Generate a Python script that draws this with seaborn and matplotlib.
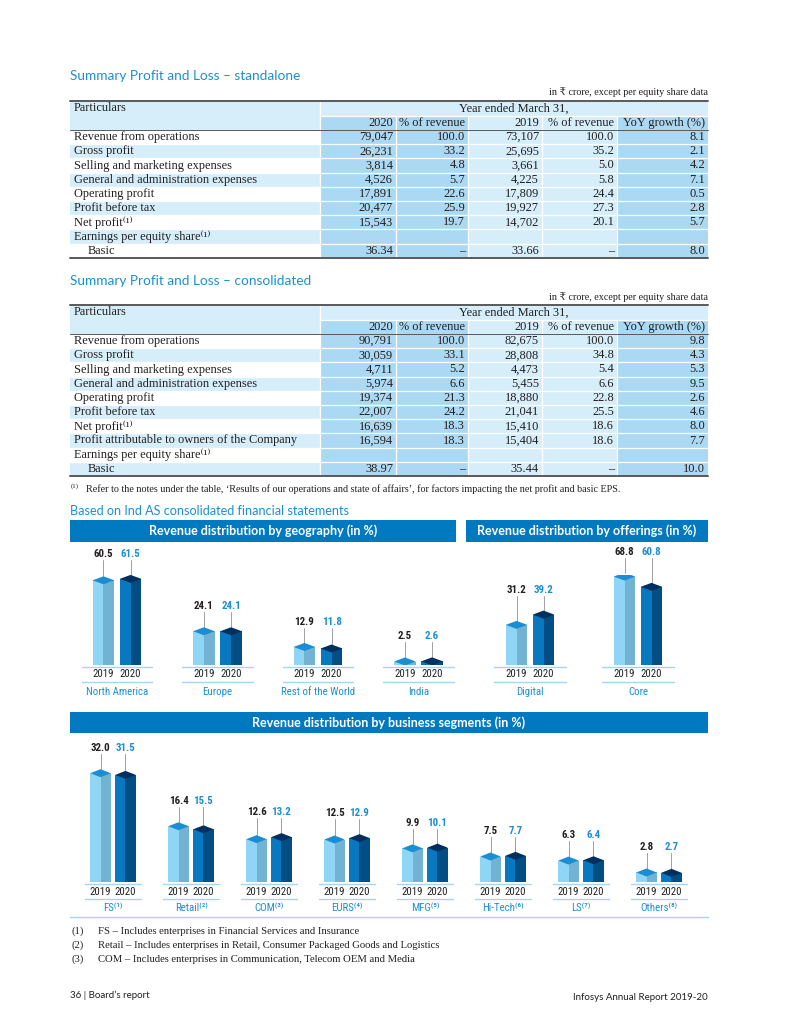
import numpy as np
import pandas as pd
import seaborn as sns
import matplotlib
matplotlib.use("Agg")
import matplotlib.pyplot as plt
from matplotlib.patches import Rectangle, Polygon
from matplotlib import font_manager
import matplotlib.transforms as mtrans

# ---------------- data ----------------
sa_rows = ["Revenue from operations", "Gross profit", "Selling and marketing expenses",
           "General and administration expenses", "Operating profit", "Profit before tax",
           "Net profit⁽¹⁾", "Earnings per equity share⁽¹⁾", "Basic"]
sa_2020 = ["79,047", "26,231", "3,814", "4,526", "17,891", "20,477", "15,543", "", "36.34"]
sa_2020_pct = ["100.0", "33.2", "4.8", "5.7", "22.6", "25.9", "19.7", "", "–"]
sa_2019 = ["73,107", "25,695", "3,661", "4,225", "17,809", "19,927", "14,702", "", "33.66"]
sa_2019_pct = ["100.0", "35.2", "5.0", "5.8", "24.4", "27.3", "20.1", "", "–"]
sa_yoy = ["8.1", "2.1", "4.2", "7.1", "0.5", "2.8", "5.7", "", "8.0"]

co_rows = ["Revenue from operations", "Gross profit", "Selling and marketing expenses",
           "General and administration expenses", "Operating profit", "Profit before tax",
           "Net profit⁽¹⁾", "Profit attributable to owners of the Company",
           "Earnings per equity share⁽¹⁾", "Basic"]
co_2020 = ["90,791", "30,059", "4,711", "5,974", "19,374", "22,007", "16,639", "16,594", "", "38.97"]
co_2020_pct = ["100.0", "33.1", "5.2", "6.6", "21.3", "24.2", "18.3", "18.3", "", "–"]
co_2019 = ["82,675", "28,808", "4,473", "5,455", "18,880", "21,041", "15,410", "15,404", "", "35.44"]
co_2019_pct = ["100.0", "34.8", "5.4", "6.6", "22.8", "25.5", "18.6", "18.6", "", "–"]
co_yoy = ["9.8", "4.3", "5.3", "9.5", "2.6", "4.6", "8.0", "7.7", "", "10.0"]

table_headers = ["2020", "% of revenue", "2019", "% of revenue", "YoY growth (%)"]

years = ["2019", "2020"]
geo_regions = ["North America", "Europe", "Rest of the World", "India"]
geo_2019 = [60.5, 24.1, 12.9, 2.5]
geo_2020 = [61.5, 24.1, 11.8, 2.6]
off_types = ["Digital", "Core"]
off_2019 = [31.2, 68.8]
off_2020 = [39.2, 60.8]
seg_names = ["FS⁽¹⁾", "Retail⁽²⁾", "COM⁽³⁾", "EURS⁽⁴⁾", "MFG⁽⁵⁾", "Hi-Tech⁽⁶⁾", "LS⁽⁷⁾", "Others⁽⁸⁾"]
seg_2019 = [32.0, 16.4, 12.6, 12.5, 9.9, 7.5, 6.3, 2.8]
seg_2020 = [31.5, 15.5, 13.2, 12.9, 10.1, 7.7, 6.4, 2.7]

notes = [("(1)", "FS – Includes enterprises in Financial Services and Insurance"),
         ("(2)", "Retail – Includes enterprises in Retail, Consumer Packaged Goods and Logistics"),
         ("(3)", "COM – Includes enterprises in Communication, Telecom OEM and Media")]

# ---------------- style ----------------
sns.set_style("white")
avail = {f.name for f in font_manager.fontManager.ttflist}


def pick(cands, default):
    for c in cands:
        if c in avail:
            return c
    return default


SERIF = pick(["Liberation Serif", "DejaVu Serif"], "serif")
SANS = pick(["Lato", "Open Sans", "Noto Sans"], "DejaVu Sans")
COND = pick(["Liberation Sans Narrow", "Roboto Condensed", "Open Sans Condensed", "Roboto"], SANS)
plt.rcParams["font.family"] = [SANS, "DejaVu Sans"]
SERIF_F = [SERIF, "DejaVu Serif", "DejaVu Sans"]
SANS_F = [SANS, "DejaVu Sans"]
COND_F = [COND, "DejaVu Sans"]

BLUE_TXT = "#1b8fd2"
BANNER = "#0079c1"
MED = "#abd9f3"
LIGHT = "#d5eefa"
RULE = "#58595b"
DARK = "#231f20"
FRONT = ["#8fd5f6", "#0878c0"]
SIDE = ["#72b3d3", "#014e84"]
TOP = ["#1b8ed3", "#012f5e"]
LINEC = "#a3d6f1"

W, H = 800, 1035
fig = plt.figure(figsize=(W / 100, H / 100), dpi=100)
page = fig.add_axes([0, 0, 1, 1])
page.set_xlim(0, W)
page.set_ylim(H, 0)
page.axis("off")


def rect(x, y, w, h, c, z=1):
    page.add_patch(Rectangle((x, y), w, h, facecolor=c, edgecolor="none", zorder=z))


def draw_table(title, title_y, unit_y, top, rows, cols):
    page.text(70, title_y, title, family=SANS_F, fontsize=9.8, color=BLUE_TXT, va="center")
    page.text(708, unit_y, "in ₹ crore, except per equity share data", family=SERIF_F,
              fontsize=7.3, color=DARK, va="center", ha="right")
    xe = [70, 320, 396, 468, 542, 617, 708]
    hh, rh = 14.5, 14.2
    y0 = top + 2 * hh
    bottom = y0 + rh * len(rows)
    rect(70, top, 250, 2 * hh, LIGHT)
    rect(320, top, 388, hh, LIGHT)
    rect(320, top + hh, 148, hh, MED)
    rect(468, top + hh, 149, hh, LIGHT)
    rect(617, top + hh, 91, hh, MED)
    for i in range(len(rows)):
        y = y0 + i * rh
        rect(70, y, 250, rh, LIGHT if i % 2 else "white")
        rect(320, y, 148, rh, MED)
        rect(468, y, 149, rh, LIGHT)
        rect(617, y, 91, rh, MED)
    for x in xe[1:-1]:
        y_start = top + hh if x != 320 else top
        page.plot([x, x], [y_start, bottom], color="white", lw=0.9, zorder=2)
    page.plot([320, 708], [top + hh, top + hh], color="white", lw=0.9, zorder=2)
    for i in range(1, len(rows)):
        y = y0 + i * rh
        page.plot([70, 708], [y, y], color="white", lw=0.9, zorder=2)
    page.plot([70, 708], [top, top], color=RULE, lw=1.4, zorder=3)
    page.plot([70, 708], [y0, y0], color=RULE, lw=0.7, zorder=3)
    page.plot([70, 708], [bottom, bottom], color=RULE, lw=1.4, zorder=3)
    fs = 8.9
    page.text(74, top + hh / 2, "Particulars", family=SERIF_F, fontsize=fs, color=DARK, va="center", zorder=4)
    page.text(514, top + hh / 2, "Year ended March 31,", family=SERIF_F, fontsize=fs, color=DARK,
              va="center", ha="center", zorder=4)
    for j, h in enumerate(table_headers):
        page.text(xe[j + 2] - 3, top + hh * 1.5, h, family=SERIF_F, fontsize=fs, color=DARK,
                  va="center", ha="right", zorder=4)
    for i, r in enumerate(rows):
        yc = y0 + i * rh + rh / 2
        xr = 88 if r == "Basic" else 74
        page.text(xr, yc, r, family=SERIF_F, fontsize=fs, color=DARK, va="center", zorder=4)
        for j, col in enumerate(cols):
            page.text(xe[j + 2] - 3, yc, col[i], family=SERIF_F, fontsize=fs, color=DARK,
                      va="center", ha="right", zorder=4)


draw_table("Summary Profit and Loss – standalone", 76, 92, 101, sa_rows,
           [sa_2020, sa_2020_pct, sa_2019, sa_2019_pct, sa_yoy])
draw_table("Summary Profit and Loss – consolidated", 281, 297, 305, co_rows,
           [co_2020, co_2020_pct, co_2019, co_2019_pct, co_yoy])

page.text(71, 486, "(1)", family=SERIF_F, fontsize=5.0, color=DARK, va="center")
page.text(86, 489, "Refer to the notes under the table, ‘Results of our operations and state of affairs’, "
          "for factors impacting the net profit and basic EPS.", family=SERIF_F, fontsize=7.3,
          color=DARK, va="center")

page.text(70, 511, "Based on Ind AS consolidated financial statements", family=SANS_F,
          fontsize=9.1, color=BLUE_TXT, va="center")


def banner(x0, x1, y0, y1, txt):
    rect(x0, y0, x1 - x0, y1 - y0, BANNER)
    page.text((x0 + x1) / 2, (y0 + y1) / 2, txt, family=SANS_F, fontsize=9.0, fontweight="bold",
              color="white", ha="center", va="center", zorder=4)


banner(70, 456, 520, 542, "Revenue distribution by geography (in %)")
banner(466, 708, 520, 542, "Revenue distribution by offerings (in %)")
banner(70, 708, 712, 733, "Revenue distribution by business segments (in %)")


def bar_chart(left, base, w_px, h_px, cats, v19, v20, ymax, width, gap, line_hw,
              yr_off, ln_off, cat_off, lab_off=21):
    ax = fig.add_axes([left / W, (H - base) / H, w_px / W, h_px / H])
    n = len(cats)
    df = pd.DataFrame({"cat": list(cats) * 2,
                       "year": [years[0]] * n + [years[1]] * n,
                       "value": list(v19) + list(v20)})
    sns.barplot(data=df, x="cat", y="value", hue="year", palette=FRONT, width=width, gap=gap,
                saturation=1, linewidth=0, legend=False, ax=ax, errorbar=None)
    ax.set_xlim(-0.5, n - 0.5)
    ax.set_ylim(0, ymax)
    ax.axis("off")
    dy = 4.0 * ymax / h_px
    px = ymax / h_px
    gmax = [max(a, b) for a, b in zip(v19, v20)]
    off_yr = mtrans.offset_copy(ax.transData, fig=fig, y=-yr_off, units="dots")
    off_ln = mtrans.offset_copy(ax.transData, fig=fig, y=-ln_off, units="dots")
    off_cat = mtrans.offset_copy(ax.transData, fig=fig, y=-cat_off, units="dots")
    off_ln0 = mtrans.offset_copy(ax.transData, fig=fig, y=-1.5, units="dots")
    for p in list(ax.patches):
        L = p.get_x()
        wd = p.get_width()
        h = p.get_height()
        R = L + wd
        C = L + wd / 2
        gi = int(round(C))
        k = 0 if C < gi else 1
        p.set_zorder(2)
        ax.add_patch(Polygon([(C, 0), (C, h), (R, h), (R, 0)], closed=True,
                             facecolor=SIDE[k], edgecolor="none", zorder=3))
        ax.add_patch(Polygon([(L, h), (C, h + dy), (R, h), (C, h - dy)], closed=True,
                             facecolor=TOP[k], edgecolor="none", zorder=4))
        ly = gmax[gi] + dy + lab_off * px
        ax.plot([C, C], [ly - 6 * px, h + dy], color="#9d9fa2", lw=0.7, zorder=1, clip_on=False)
        ax.text(C, ly, f"{h:.1f}", family=COND_F, fontsize=7.8, fontweight="bold",
                color=DARK if k == 0 else BLUE_TXT, ha="center", va="center", clip_on=False)
        ax.text(C, 0, years[k], transform=off_yr, family=COND_F, fontsize=7.8, color=DARK,
                ha="center", va="center", clip_on=False)
    for i, c in enumerate(cats):
        ax.plot([i - line_hw, i + line_hw], [0, 0], transform=off_ln0, color=LINEC, lw=1.0,
                clip_on=False, zorder=1)
        ax.plot([i - line_hw, i + line_hw], [0, 0], transform=off_ln, color=LINEC, lw=1.0,
                clip_on=False, zorder=1)
        ax.text(i, 0, c, transform=off_cat, family=COND_F, fontsize=7.8, color=BLUE_TXT,
                ha="center", va="center", clip_on=False)
    return ax


bar_chart(66.75, 665, 402, 98, geo_regions, geo_2019, geo_2020, 70, 0.54, 0.2, 0.35,
          9, 17, 27)
bar_chart(476, 665, 216, 90, off_types, off_2019, off_2020, 70, 0.50, 0.2, 0.33,
          9, 17, 27)
bar_chart(74, 882, 624, 119, seg_names, seg_2019, seg_2020, 35, 0.64, 0.18, 0.36,
          10, 17, 26)

page.plot([70, 708], [917, 917], color=LINEC, lw=1.0)

for i, (num, txt) in enumerate(notes):
    y = 931 + i * 14
    page.text(72, y, num, family=SERIF_F, fontsize=7.7, color=DARK, va="center")
    page.text(98, y, txt, family=SERIF_F, fontsize=7.7, color=DARK, va="center")

page.text(70, 995, "36 | Board’s report", family=SANS_F, fontsize=7.0, color=DARK, va="center")
page.text(708, 997, "Infosys Annual Report 2019-20", family=SANS_F, fontsize=7.0, color=DARK,
          va="center", ha="right")

fig.savefig("out.png", dpi=100, facecolor="white")
